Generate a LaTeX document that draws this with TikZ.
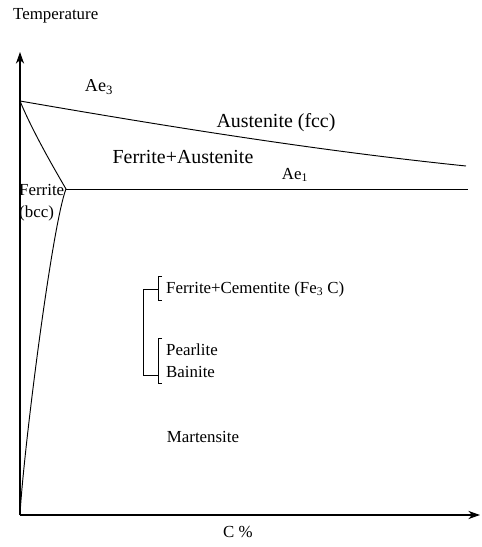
\documentclass[tikz,border=0pt]{standalone}
\usepackage{fontspec}
\setmainfont{Liberation Serif}
\usetikzlibrary{arrows.meta}
\tikzset{
  lbl/.style={font=\fontsize{14.4}{18.8}\selectfont, inner sep=0pt},
  biglbl/.style={font=\fontsize{17}{20}\selectfont, inner sep=0pt},
  axis/.style={line width=0.9pt, -{Stealth[length=10pt,width=7pt]}},
  bound/.style={line width=0.8pt},
  brace/.style={line width=0.6pt},
}

\begin{document}
\begin{tikzpicture}[x=0.03cm,y=0.03cm]
        \useasboundingbox (-20,-32) rectangle (462,515);
        % axes
        \coordinate (O) at (0,0);
        \coordinate (ytop) at (0,463);
        \coordinate (xend) at (460,0);
        \draw[axis] (O) -- (ytop);
        \draw[axis] (O) -- (xend);
        \node[lbl,anchor=west] (temp) at (-7,499) {Temperature};
        \node[lbl] (carbon) at (218,-17) {C \%};
        % phase boundaries
        \coordinate (ae3) at (0,414);
        \coordinate (ae3end) at (446,349);
        \coordinate (eut) at (46,326);
        \coordinate (ae1end) at (448,326);
        \draw[bound] (ae3) .. controls (150,388) and (300,364) .. (ae3end);
        \draw[bound] (eut) -- (ae1end);
        \draw[bound] (ae3) .. controls (12,385) and (32,350) .. (eut);
        \draw[bound] (eut) .. controls (32,290) and (3,60) .. (O);
        % regions
        \node[lbl] (ae3lbl) at (79,428) {\fontsize{15.5}{18}\selectfont Ae\textsubscript{3}};
        \node[biglbl] (aust) at (256,392) {Austenite (fcc)};
        \node[biglbl] (ferraust) at (163,358) {Ferrite+Austenite};
        \node[lbl] (ae1lbl) at (275,340) {Ae\textsubscript{1}};
        \node[lbl,align=left,anchor=west] (ferr) at (-1,312) {Ferrite\\(bcc)};
        \node[lbl,anchor=west] (fercem) at (146,226) {Ferrite+Cementite (Fe\textsubscript{3} C)};
        \node[lbl,align=left,anchor=west] (pearl) at (146,154.5) {Pearlite\\Bainite};
        \node[lbl] (mart) at (183,78) {Martensite};
        % brackets
        \coordinate (b1) at (138,226);
        \coordinate (b2) at (138,140);
        \coordinate (j1) at (123,226);
        \coordinate (j2) at (123,140);
        \draw[brace] (142,239) -- (138,239) -- (138,215) -- (142,215);
        \draw[brace] (142,177) -- (138,177) -- (138,132) -- (142,132);
        \draw[brace] (b1) -- (j1) -- (j2) -- (b2);
\end{tikzpicture}
\end{document}
